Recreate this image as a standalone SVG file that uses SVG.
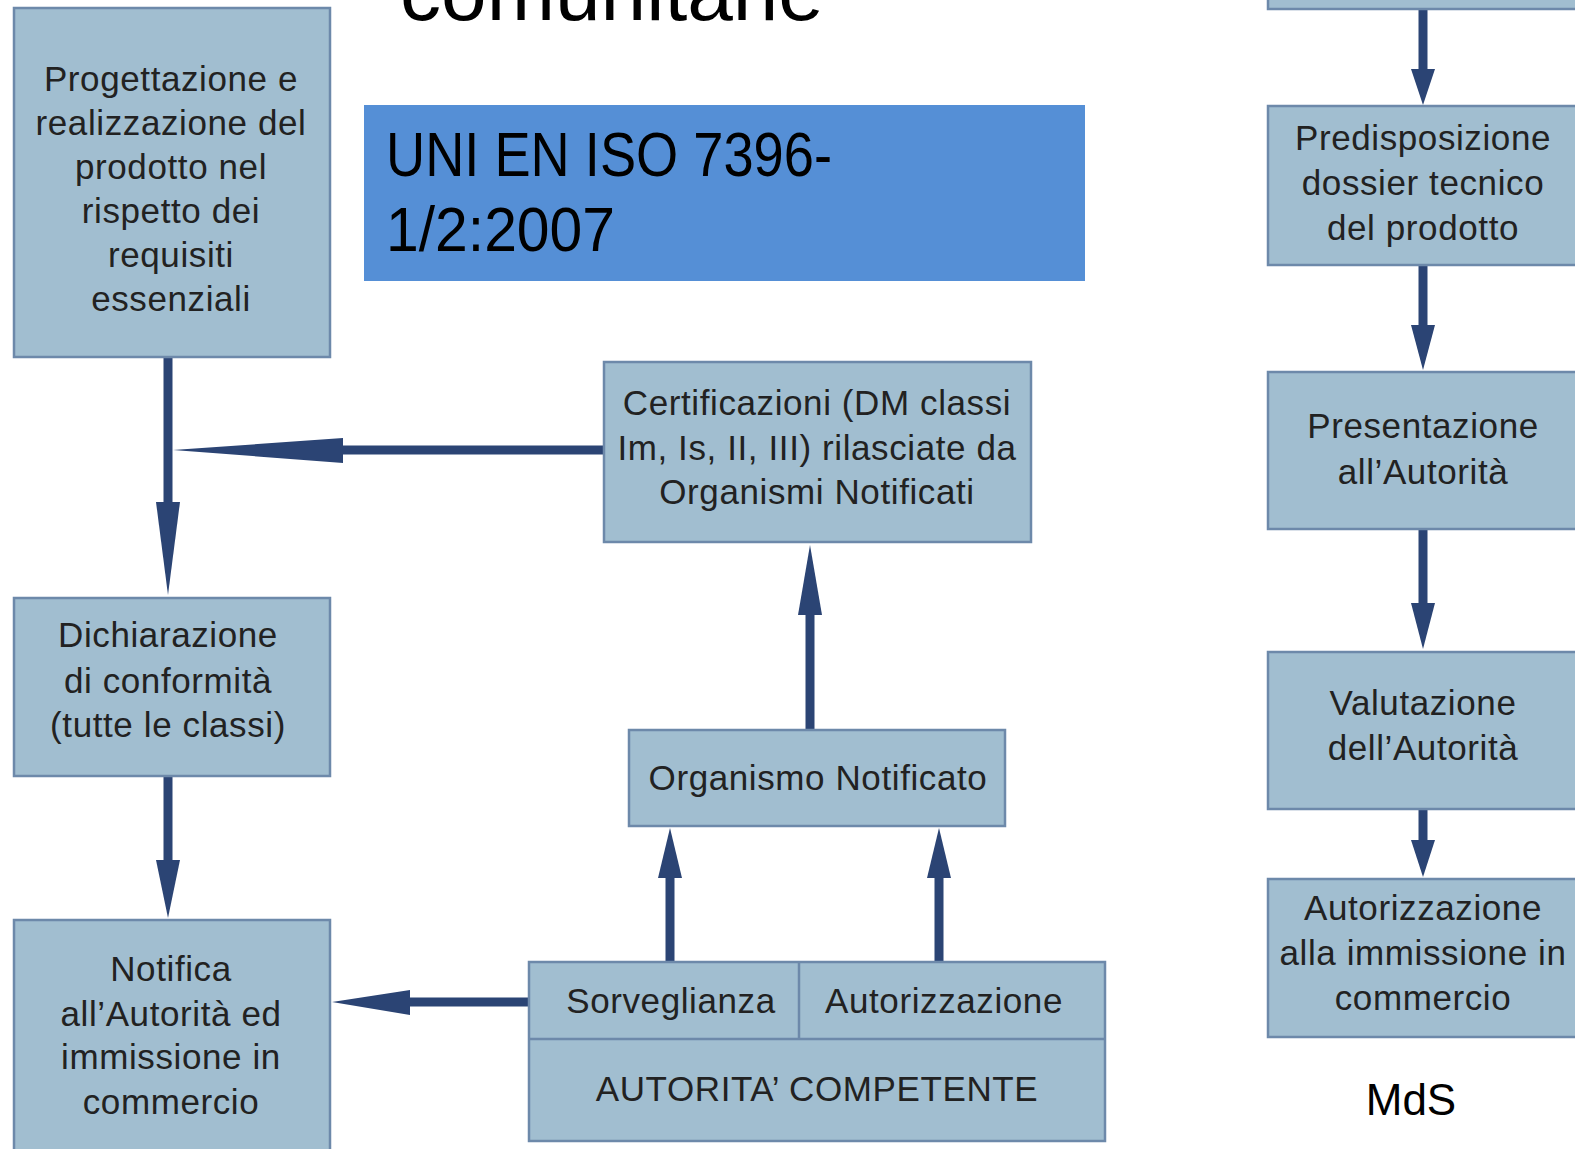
<svg xmlns="http://www.w3.org/2000/svg" width="1575" height="1149" viewBox="0 0 1575 1149">
<style>
.box{fill:#a1bed0;stroke:#6d89aa;stroke-width:2.5}
.t{font-family:"Liberation Sans",Arial,sans-serif;font-size:35px;letter-spacing:0.6px;fill:#222222;text-anchor:middle}
.ar{fill:#2b4474}
.sh{stroke:#2b4474;stroke-width:9;fill:none}
.big{font-family:"Liberation Sans",Arial,sans-serif;fill:#000}
</style>
<rect width="1575" height="1149" fill="#ffffff"/>
<text class="big" x="400" y="20" font-size="82" textLength="424" lengthAdjust="spacingAndGlyphs">comunitarie</text>
<g id="title-box">
<rect x="364" y="105" width="721" height="176" fill="#558fd6"/>
<text class="big" x="386" y="176" font-size="63" textLength="446" lengthAdjust="spacingAndGlyphs">UNI EN ISO 7396-</text>
<text class="big" x="386" y="251" font-size="63" textLength="229" lengthAdjust="spacingAndGlyphs">1/2:2007</text>
</g>
<g id="connectors">
<line class="sh" x1="168" y1="357" x2="168" y2="510"/>
<polygon class="ar" points="156,502 180,502 168,595"/>
<line class="sh" x1="605" y1="450" x2="335" y2="450"/>
<polygon class="ar" points="343,438 343,463 173,450"/>
<line class="sh" x1="168" y1="776" x2="168" y2="870"/>
<polygon class="ar" points="156,860 180,860 168,918"/>
<line class="sh" x1="529" y1="1002" x2="400" y2="1002"/>
<polygon class="ar" points="410,990 410,1015 332,1002"/>
<line class="sh" x1="810" y1="730" x2="810" y2="605"/>
<polygon class="ar" points="798,615 822,615 810,545"/>
<line class="sh" x1="670" y1="962" x2="670" y2="868"/>
<polygon class="ar" points="658,878 682,878 670,828"/>
<line class="sh" x1="939" y1="962" x2="939" y2="868"/>
<polygon class="ar" points="927,878 951,878 939,828"/>
<line class="sh" x1="1423" y1="8" x2="1423" y2="80"/>
<polygon class="ar" points="1411,69 1435,69 1423,105"/>
<line class="sh" x1="1423" y1="265" x2="1423" y2="335"/>
<polygon class="ar" points="1411,325 1435,325 1423,370"/>
<line class="sh" x1="1423" y1="529" x2="1423" y2="613"/>
<polygon class="ar" points="1411,603 1435,603 1423,649"/>
<line class="sh" x1="1423" y1="809" x2="1423" y2="850"/>
<polygon class="ar" points="1411,840 1435,840 1423,877"/>
</g>
<g id="progettazione">
<rect class="box" x="14" y="8" width="316" height="349"/>
<text class="t" x="171" y="91">Progettazione e</text>
<text class="t" x="171" y="135">realizzazione del</text>
<text class="t" x="171" y="179">prodotto nel</text>
<text class="t" x="171" y="223">rispetto dei</text>
<text class="t" x="171" y="267">requisiti</text>
<text class="t" x="171" y="311">essenziali</text>
</g>
<g id="certificazioni">
<rect class="box" x="604" y="362" width="427" height="180"/>
<text class="t" x="817" y="415">Certificazioni (DM classi</text>
<text class="t" x="817" y="460">Im, Is, II, III) rilasciate da</text>
<text class="t" x="817" y="504">Organismi Notificati</text>
</g>
<g id="dichiarazione">
<rect class="box" x="14" y="598" width="316" height="178"/>
<text class="t" x="168" y="647">Dichiarazione</text>
<text class="t" x="168" y="693">di conformità</text>
<text class="t" x="168" y="737">(tutte le classi)</text>
</g>
<g id="organismo">
<rect class="box" x="629" y="730" width="376" height="96"/>
<text class="t" x="818" y="790">Organismo Notificato</text>
</g>
<g id="notifica">
<rect class="box" x="14" y="920" width="316" height="240"/>
<text class="t" x="171" y="981">Notifica</text>
<text class="t" x="171" y="1026">all’Autorità ed</text>
<text class="t" x="171" y="1069">immissione in</text>
<text class="t" x="171" y="1114">commercio</text>
</g>
<g id="autorita">
<rect class="box" x="529" y="962" width="576" height="179"/>
<line x1="529" y1="1039" x2="1105" y2="1039" stroke="#6d89aa" stroke-width="2.5"/>
<line x1="799" y1="962" x2="799" y2="1039" stroke="#6d89aa" stroke-width="2.5"/>
<text class="t" x="671" y="1013">Sorveglianza</text>
<text class="t" x="944" y="1013">Autorizzazione</text>
<text class="t" x="817" y="1101">AUTORITA’ COMPETENTE</text>
</g>
<g id="top-right">
<rect class="box" x="1268" y="-20" width="330" height="29"/>
</g>
<g id="predisposizione">
<rect class="box" x="1268" y="106" width="330" height="159"/>
<text class="t" x="1423" y="150">Predisposizione</text>
<text class="t" x="1423" y="195">dossier tecnico</text>
<text class="t" x="1423" y="240">del prodotto</text>
</g>
<g id="presentazione">
<rect class="box" x="1268" y="372" width="330" height="157"/>
<text class="t" x="1423" y="438">Presentazione</text>
<text class="t" x="1423" y="484">all’Autorità</text>
</g>
<g id="valutazione">
<rect class="box" x="1268" y="652" width="330" height="157"/>
<text class="t" x="1423" y="715">Valutazione</text>
<text class="t" x="1423" y="760">dell’Autorità</text>
</g>
<g id="autorizzazione">
<rect class="box" x="1268" y="879" width="330" height="158"/>
<text class="t" x="1423" y="920">Autorizzazione</text>
<text class="t" x="1423" y="965">alla immissione in</text>
<text class="t" x="1423" y="1010">commercio</text>
</g>
<text class="big" x="1411" y="1115" font-size="44" text-anchor="middle">MdS</text>
</svg>
